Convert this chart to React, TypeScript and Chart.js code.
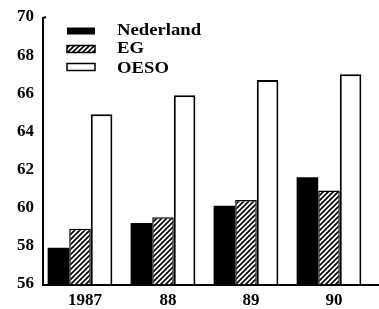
import React, { useEffect, useRef } from "react";
import { Chart, registerables } from "chart.js";

Chart.register(...registerables);

const categories = ["1987", "88", "89", "90"];
const nederland = [57.9, 59.2, 60.1, 61.6];
const eg = [58.9, 59.5, 60.4, 60.9];
const oeso = [64.9, 65.9, 66.7, 67.0];
const seriesNames = ["Nederland", "EG", "OESO"];
const yMin = 56;
const yMax = 70;

const FONT = "'Liberation Serif', 'DejaVu Serif', serif";

function makeHatch(): CanvasPattern | string {
  const c = document.createElement("canvas");
  const s = 5;
  c.width = s;
  c.height = s;
  const g = c.getContext("2d");
  if (!g) return "#000";
  g.fillStyle = "#fff";
  g.fillRect(0, 0, s, s);
  g.strokeStyle = "#000";
  g.lineWidth = 1.7;
  g.beginPath();
  g.moveTo(-1, s + 1);
  g.lineTo(s + 1, -1);
  g.moveTo(-1, 1);
  g.lineTo(1, -1);
  g.moveTo(s - 1, s + 1);
  g.lineTo(s + 1, s - 1);
  g.stroke();
  const p = g.createPattern(c, "repeat");
  return p || "#000";
}

export default function App() {
  const ref = useRef<HTMLCanvasElement | null>(null);

  useEffect(() => {
    document.body.style.margin = "0";
    document.body.style.background = "#fff";
    const canvas = ref.current;
    if (!canvas) return;
    const hatch = makeHatch();

    const axesPlugin = {
      id: "manualAxes",
      afterDatasetsDraw(chart: any) {
        const ctx = chart.ctx;
        const y = chart.scales.y;
        const top = y.getPixelForValue(yMax);
        const bottom = y.getPixelForValue(yMin) + 1;
        ctx.save();
        ctx.strokeStyle = "#000";
        ctx.lineWidth = 2;
        ctx.beginPath();
        ctx.moveTo(43, top);
        ctx.lineTo(43, bottom);
        ctx.moveTo(42, bottom);
        ctx.lineTo(chart.width, bottom);
        ctx.moveTo(43, top + 1);
        ctx.lineTo(46, top);
        ctx.stroke();
        ctx.restore();
      },
    };

    const legendPlugin = {
      id: "manualLegend",
      afterDraw(chart: any) {
        const ctx = chart.ctx;
        const swatchY = [31, 49, 67];
        const textBase = [34.5, 53, 73];
        ctx.save();
        chart.data.datasets.forEach((ds: any, i: number) => {
          const cy = swatchY[i];
          const x = 67;
          const w = 28;
          const h = 7;
          ctx.fillStyle = ds.backgroundColor;
          ctx.fillRect(x, cy - h / 2, w, h);
          if (i > 0) {
            ctx.strokeStyle = "#000";
            ctx.lineWidth = 1.5;
            ctx.strokeRect(x, cy - h / 2, w, h);
          }
          ctx.save();
          ctx.translate(117, textBase[i]);
          ctx.scale(1.1, 1);
          ctx.fillStyle = "#000";
          ctx.font = "bold 17px " + FONT;
          ctx.textBaseline = "alphabetic";
          ctx.textAlign = "left";
          ctx.fillText(ds.label, 0, 0);
          ctx.restore();
        });
        ctx.restore();
      },
    };

    const chart = new Chart(canvas, {
      type: "bar",
      data: {
        labels: categories,
        datasets: [
          {
            label: seriesNames[0],
            data: nederland,
            backgroundColor: "#000",
            borderColor: "#000",
            borderWidth: 0,
          },
          {
            label: seriesNames[1],
            data: eg,
            backgroundColor: hatch as any,
            borderColor: "#000",
            borderWidth: 1.5,
          },
          {
            label: seriesNames[2],
            data: oeso,
            backgroundColor: "#fff",
            borderColor: "#000",
            borderWidth: 2,
          },
        ],
      },
      options: {
        responsive: false,
        animation: false,
        devicePixelRatio: 1,
        layout: { padding: { top: 17, right: 8.5, left: 0, bottom: 0 } },
        plugins: {
          legend: { display: false },
          tooltip: { enabled: false },
        },
        datasets: {
          bar: { categoryPercentage: 0.78, barPercentage: 1.0 },
        },
        scales: {
          x: {
            grid: { display: false, drawTicks: false },
            border: { display: false },
            ticks: {
              color: "#000",
              padding: 6,
              labelOffset: 5,
              font: { family: FONT, size: 17, weight: "bold" },
            },
            afterFit(scale: any) {
              scale.height = 25;
            },
          },
          y: {
            min: yMin,
            max: yMax,
            grid: { display: false, drawTicks: false },
            border: { display: false },
            ticks: {
              stepSize: 2,
              color: "#000",
              padding: 4.5,
              font: { family: FONT, size: 17, weight: "bold" },
            },
            afterFit(scale: any) {
              scale.width = 38.5;
            },
          },
        },
      },
      plugins: [axesPlugin, legendPlugin],
    } as any);

    return () => chart.destroy();
  }, []);

  return (
    <canvas
      ref={ref}
      width={379}
      height={309}
      style={{ display: "block", width: 379, height: 309 }}
    />
  );
}
